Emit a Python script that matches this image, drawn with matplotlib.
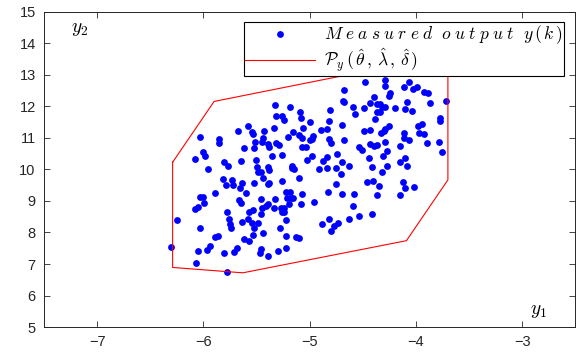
import numpy as np
import matplotlib
matplotlib.use("Agg")
import matplotlib.pyplot as plt

plt.rcParams['mathtext.fontset'] = 'cm'
plt.rcParams['font.family'] = ['Liberation Sans', 'DejaVu Sans']

y1 = np.array([
    -5.585, -5.672, -5.547, -5.531, -6.037, -5.857, -5.850, -5.516, -5.622, -5.529,
    -6.007, -5.985, -6.084, -5.803, -5.772, -5.648, -5.507, -5.498, -5.953,
    -5.819, -5.735, -5.725, -5.788, -5.638, -5.653, -5.522, -5.601, -5.888, -6.037,
    -6.007, -5.663, -5.648, -5.997, -6.053, -6.084, -5.538, -5.569, -5.782, -6.247,
    -5.763, -5.585, -5.638, -5.545, -5.747, -5.741, -6.028, -5.522, -5.866, -5.891,
    -5.622, -5.569, -5.934, -5.969, -6.304, -6.047, -5.685, -5.716, -5.810, -6.069,
    -5.779,
    -4.673, -4.688, -4.679, -5.325, -5.185, -5.091, -4.810, -5.313, -5.263, -5.241,
    -5.079, -5.001, -4.823, -4.701, -5.335, -5.063, -4.898, -4.835, -5.428, -5.157,
    -5.201, -5.100, -5.076, -4.966, -4.982, -5.001, -4.823, -4.682, -5.444, -5.451,
    -5.388, -5.381, -5.320, -5.288, -4.804, -5.069, -5.032, -5.357, -5.257, -4.976,
    -5.022, -4.744, -4.835, -4.873, -4.694, -5.397, -5.170, -5.163, -4.913, -4.835,
    -4.757, -4.632,
    -4.279, -4.476, -4.289, -4.289, -4.064, -4.111, -3.992, -4.032, -3.929, -3.891,
    -4.242, -4.257, -3.717, -4.397, -4.429, -4.366, -4.336, -4.320, -4.085, -3.867,
    -4.591, -4.491, -4.289, -4.195, -4.107, -4.038, -4.570, -4.366, -4.336, -4.388,
    -3.779, -3.779, -3.945, -3.985, -4.257, -4.289, -4.491, -4.429, -4.329, -4.304,
    -4.116, -3.976, -3.929, -4.111, -4.069, -3.898, -3.788, -4.289, -4.429, -4.397,
    -4.366, -4.538, -4.507, -4.148, -4.273, -3.757, -4.313, -4.444, -4.101, -4.154,
    -4.413, -4.273, -4.085,
    -5.491, -5.460, -5.381, -5.147, -4.710, -5.438, -5.397, -5.381, -5.257, -5.100,
    -4.751, -5.226, -5.188, -5.069, -4.826, -4.694, -5.460, -5.325, -5.210, -5.179,
    -5.157, -4.960, -5.397, -5.413, -5.194, -5.085, -5.451, -5.335, -5.273, -5.241,
    -5.263, -5.241, -5.460, -5.226, -4.819, -4.632, -5.491, -4.888, -4.732, -4.772,
    -5.282, -4.804, -5.444, -5.538, -5.219, -5.132, -5.100, -5.460, -5.470, -5.219,
    -5.294, -5.388,
    -4.320, -4.460, -4.407, -4.350, -4.126, -4.107, -4.022, -4.585, -4.366, -4.148,
    -4.591, -4.538, -4.411,
])
y2 = np.array([
    11.38, 11.23, 11.20, 11.13, 11.02, 10.97, 10.85, 10.88, 10.67, 10.67,
    10.55, 10.43, 10.32, 10.24, 10.11, 10.28, 10.30, 10.07, 10.01,
    9.70, 9.67, 9.51, 9.51, 9.56, 9.40, 9.56, 9.24, 9.26, 9.12,
    9.14, 9.03, 8.93, 8.93, 8.82, 8.74, 8.71, 8.64, 8.64, 8.40,
    8.42, 8.43, 8.34, 8.29, 8.26, 8.13, 8.15, 8.13, 7.90, 7.87,
    7.79, 7.74, 7.58, 7.44, 7.55, 7.41, 7.50, 7.39, 7.34, 7.02,
    6.76,
    12.52, 12.18, 12.13, 12.04, 11.97, 11.83, 11.89, 11.71, 11.70, 11.57,
    11.63, 11.52, 11.55, 11.41, 11.31, 11.31, 11.25, 11.30, 11.23, 11.20,
    11.03, 11.10, 11.01, 11.06, 10.96, 10.94, 10.98, 10.94, 10.99, 10.88,
    10.81, 10.72, 10.83, 10.77, 10.83, 10.70, 10.72, 10.43, 10.46, 10.43,
    10.30, 10.48, 10.39, 10.27, 10.24, 10.09, 10.11, 10.04, 10.01, 10.04,
    10.04, 10.11,
    13.16, 12.79, 12.84, 12.66, 12.77, 12.63, 12.63, 12.55, 12.47, 12.42,
    12.42, 12.33, 12.18, 12.31, 12.12, 12.08, 12.07, 11.99, 12.15, 12.10,
    11.99, 11.96, 11.99, 11.96, 11.91, 11.86, 11.76, 11.82, 11.82, 11.59,
    11.63, 11.55, 11.44, 11.38, 11.38, 11.29, 11.22, 11.25, 11.17, 11.22,
    11.17, 11.17, 11.13, 10.99, 10.94, 10.83, 10.88, 10.88, 10.81, 10.75,
    10.78, 10.72, 10.62, 10.75, 10.59, 10.55, 10.43, 10.36, 10.36, 10.25,
    10.09, 10.11, 10.11,
    9.93, 9.93, 9.98, 10.01, 9.85, 9.72, 9.54, 9.56, 9.64, 9.72,
    9.53, 9.28, 9.30, 9.21, 9.30, 9.21, 9.06, 9.06, 9.09, 9.09,
    9.09, 8.98, 8.90, 8.85, 8.90, 8.91, 8.79, 8.79, 8.77, 8.77,
    8.66, 8.64, 8.58, 8.40, 8.43, 8.43, 8.29, 8.27, 8.29, 8.22,
    8.15, 8.05, 7.97, 7.92, 7.89, 7.86, 7.82, 7.47, 7.34, 7.50,
    7.41, 7.26,
    9.93, 9.59, 9.63, 9.47, 9.61, 9.40, 9.43, 9.21, 9.19, 9.19,
    8.85, 8.52, 8.59,
])

# vertices of the outer approximation P_y (closed polygon)
poly_y1 = [-6.29, -5.90, -4.40, -4.21, -3.70, -3.70, -4.09, -5.63, -6.29, -6.29]
poly_y2 = [10.23, 12.16, 13.17, 13.17, 13.00, 9.67, 7.74, 6.72, 6.89, 10.23]


def spaced(word):
    # MATLAB's latex interpreter sets math italics with wide letter spacing
    return r'\;'.join(word)


label_meas = '$' + r'\ \ '.join(spaced(w) for w in ['Measured', 'output']) \
    + r'\ \ ' + r'y\,(\,k\,)' + '$'
label_poly = r'$\mathcal{P}_y\,(\,\hat{\theta}\,,\,\hat{\lambda}\,,\,\hat{\delta}\,)$'

fig = plt.figure(figsize=(5.77, 3.52), dpi=100)
ax = fig.add_axes([0.0763, 0.071, 0.921, 0.895])

ax.plot(y1, y2, 'o', color='#0000ff', ms=4.9, mec='none', label=label_meas)
ax.plot(poly_y1, poly_y2, '-', color='#ff0000', lw=0.8, label=label_poly)

ax.set_xlim(-7.5, -2.5)
ax.set_ylim(5, 15)
ax.set_xticks([-7, -6, -5, -4, -3])
ax.set_yticks(range(5, 16))
ax.tick_params(direction='in', top=True, right=True, length=4, width=0.6,
               labelsize=10.5, colors='#262626', pad=6)
for s in ax.spines.values():
    s.set_color('#262626')
    s.set_linewidth(0.7)

ax.text(0.05, 0.935, r'$y_2$', transform=ax.transAxes, fontsize=14)
ax.text(0.915, 0.04, r'$y_1$', transform=ax.transAxes, fontsize=14)

leg = ax.legend(loc='upper right', bbox_to_anchor=(0.979, 0.968), fontsize=12.6,
                fancybox=False, framealpha=1, edgecolor='black',
                borderpad=0.1, handlelength=4.0, handletextpad=0.5,
                labelspacing=0.0, borderaxespad=0)
leg.get_frame().set_linewidth(0.8)

fig.savefig('out.png', dpi=100)
